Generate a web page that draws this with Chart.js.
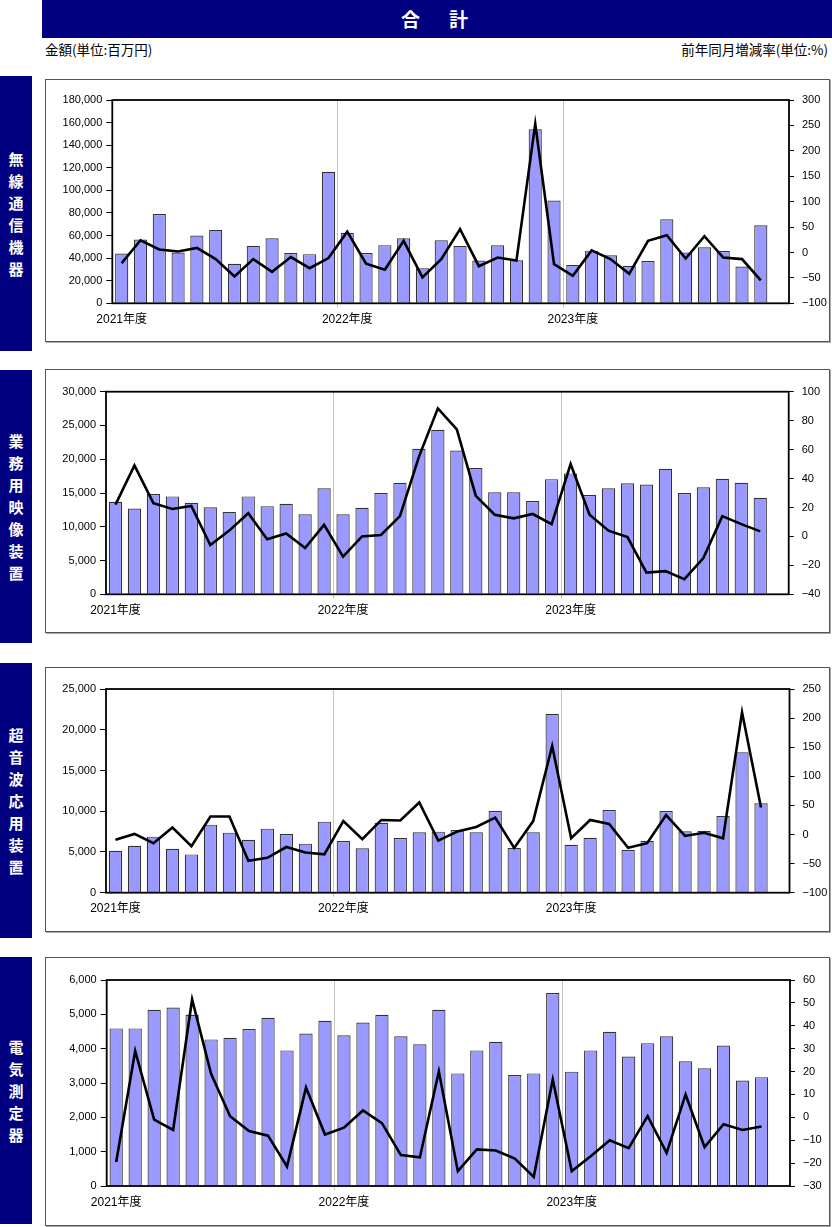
<!DOCTYPE html>
<html lang="ja">
<head>
<meta charset="utf-8">
<script src="https://cdn.jsdelivr.net/npm/chart.js@4.4.1/dist/chart.umd.min.js"></script>
<style>
  html, body { margin: 0; padding: 0; background: #fff; }
  body { width: 832px; height: 1227px; position: relative; overflow: hidden;
         font-family: 'Liberation Sans', 'Noto Sans CJK JP', sans-serif; }
  #hdr { position: absolute; left: 42px; top: 0; width: 790px; height: 38px; background: #000080;
         color: #fff; font-family: 'Noto Sans CJK JP', sans-serif; font-weight: bold; font-size: 19px;
         line-height: 38px; text-align: center; letter-spacing: 5px; }
  .unit { position: absolute; top: 41px; font-family: 'Noto Sans CJK JP', sans-serif; font-size: 13.5px; line-height: 16px; color: #000; }
  .side { position: absolute; left: 0; width: 32px; background: #000080; color: #fff;
          font-family: 'Noto Sans CJK JP', sans-serif; font-weight: bold; font-size: 15px;
          display: flex; align-items: center; justify-content: center; }
  .side span { display: block; width: 16px; line-height: 22px; text-align: center; word-break: break-all; }
  .box { position: absolute; left: 45px; width: 783px; border: 1px solid #555; box-shadow: 1px 1px 0 #aaa; background: #fff; }
  .box canvas { display: block; }
</style>
</head>
<body>
<div id="hdr">合　計</div>
<div class="unit" style="left:45px;">金額(単位:百万円)</div>
<div class="unit" style="right:4px;">前年同月増減率(単位:%)</div>

<div class="side" style="top:76px;height:275px;"><span>無線通信機器</span></div>
<div class="side" style="top:370px;height:273px;"><span>業務用映像装置</span></div>
<div class="side" style="top:663px;height:275px;"><span>超音波応用装置</span></div>
<div class="side" style="top:957px;height:267px;"><span>電気測定器</span></div>

<div class="box" style="top:79px;height:261px;"><canvas id="c1" width="783" height="261"></canvas></div>
<div class="box" style="top:369px;height:262px;"><canvas id="c2" width="783" height="262"></canvas></div>
<div class="box" style="top:667px;height:263px;"><canvas id="c3" width="783" height="263"></canvas></div>
<div class="box" style="top:957px;height:267px;"><canvas id="c4" width="783" height="267"></canvas></div>

<script>
// ---- categories (fiscal months Apr 2021 .. Mar 2024) ----
const months = [
  '2021-04','2021-05','2021-06','2021-07','2021-08','2021-09','2021-10','2021-11','2021-12','2022-01','2022-02','2022-03',
  '2022-04','2022-05','2022-06','2022-07','2022-08','2022-09','2022-10','2022-11','2022-12','2023-01','2023-02','2023-03',
  '2023-04','2023-05','2023-06','2023-07','2023-08','2023-09','2023-10','2023-11','2023-12','2024-01','2024-02','2024-03'
];
const fiscalYearLabels = ['2021年度', '2022年度', '2023年度'];

// ---- 無線通信機器 ----
const wirelessAmount = [44000, 56500, 79000, 45000, 60000, 65000, 35000, 51000, 57500, 44500, 43500, 116500,
  62500, 44500, 51500, 57500, 31000, 55800, 50800, 37800, 51300, 38100, 154000, 91000,
  34000, 46600, 42500, 33300, 37500, 74400, 44900, 49600, 46300, 32500, 69000];
const wirelessRate = [-21, 24, 6, 2, 9, -13, -47, -13, -38, -9, -31, -11,
  41, -22, -34, 23, -49, -13, 46, -27, -10, -16, 253, -23,
  -46, 4, -13, -42, 23, 34, -12, 32, -10, -13, -55];
const wirelessLeftTicks = [0, 180000, 20000];
const wirelessRightTicks = [-100, 300, 50];

// ---- 業務用映像装置 ----
const videoAmount = [13700, 12700, 14850, 14500, 13550, 12900, 12200, 14500, 13050, 13400, 11850, 15700,
  11850, 12800, 15000, 16500, 21550, 24350, 21300, 18700, 15100, 15100, 13800, 17050,
  17900, 14700, 15700, 16450, 16250, 18600, 15000, 15850, 17100, 16500, 14300];
const videoRate = [22, 49, 23, 19, 21, -6, 4, 16, -2, 2, -8, 8,
  -14, 0, 1, 14, 55, 88.5, 74, 28, 15, 12.5, 15.5, 8.5,
  50, 15, 4, -0.5, -25, -24, -29.5, -15, 14, 8.5, 3.5];
const videoLeftTicks = [0, 30000, 5000];
const videoRightTicks = [-40, 100, 20];

// ---- 超音波応用装置 ----
const ultrasonicAmount = [5150, 5770, 6880, 5400, 4700, 8350, 7370, 6500, 7860, 7200, 6020, 8720,
  6340, 5440, 8590, 6710, 7410, 7490, 7690, 7410, 10030, 5480, 7410, 21970,
  5890, 6750, 10150, 5240, 6380, 10030, 7530, 7610, 9410, 17230, 10970];
const ultrasonicRate = [-9, 1, -15, 12, -20, 31, 31, -45, -40, -21.5, -31, -34,
  23, -8, 25, 24, 55, -10.5, 5, 13, 29, -23, 23, 152,
  -6.5, 25, 18, -23, -15, 33.5, -2.5, 3, -6.5, 210, 46.5];
const ultrasonicLeftTicks = [0, 25000, 5000];
const ultrasonicRightTicks = [-100, 250, 50];

// ---- 電気測定器 ----
const measureAmount = [4590, 4590, 5130, 5200, 4990, 4270, 4320, 4570, 4900, 3950, 4440, 4810,
  4390, 4760, 4990, 4360, 4130, 5130, 3280, 3950, 4200, 3230, 3280, 5620,
  3330, 3950, 4490, 3770, 4160, 4360, 3630, 3430, 4090, 3070, 3170];
const measureRate = [-19.5, 29, -1, -5.5, 51.5, 19, 0.5, -6, -8, -21.5, 13, -7.5,
  -4.5, 3, -2.5, -16.5, -17.5, 20, -23.5, -14, -14.5, -18, -26, 16.5,
  -23.5, -17, -10, -13.5, 0.5, -15.5, 10, -13, -3, -5.5, -4];
const measureLeftTicks = [0, 6000, 1000];
const measureRightTicks = [-30, 60, 10];

const FONT_FAMILY = "'Liberation Sans', 'Noto Sans CJK JP', sans-serif";

const framePlugin = {
  id: 'frame',
  afterDraw(chart) {
    const a = chart.chartArea, ctx = chart.ctx;
    ctx.save();
    ctx.strokeStyle = '#000';
    ctx.lineWidth = 1.8;
    ctx.strokeRect(a.left, a.top, a.right - a.left, a.bottom - a.top);
    ctx.restore();
  }
};

function makeChart(id, amount, rate, leftTicks, rightTicks, geo) {
  const fmtLeft = v => Number(v).toLocaleString('en-US');
  const fmtRight = v => (v < 0 ? '\u2212' + Math.abs(v) : String(v));
  return new Chart(document.getElementById(id), {
    data: {
      labels: months,
      datasets: [
        { type: 'line', data: rate, yAxisID: 'y1', order: 0,
          borderColor: '#000', borderWidth: 2.6, pointRadius: 0, tension: 0, fill: false },
        { type: 'bar', data: amount, yAxisID: 'y', order: 1,
          backgroundColor: '#9999ff', borderColor: '#333', borderWidth: 1.2,
          barPercentage: 0.7, categoryPercentage: 1.0 }
      ]
    },
    options: {
      responsive: false, animation: false, devicePixelRatio: 1,
      layout: { padding: { top: geo.top, left: 0, right: 0, bottom: 0 } },
      plugins: { legend: { display: false }, tooltip: { enabled: false } },
      scales: {
        x: {
          offset: true,
          grid: {
            offset: true, drawOnChartArea: true, drawTicks: true, tickLength: 4,
            color: c => (c.index === 12 || c.index === 24) ? '#c4c4c4' : 'rgba(0,0,0,0)',
            lineWidth: 1
          },
          border: { display: false },
          ticks: {
            autoSkip: false, maxRotation: 0, minRotation: 0, padding: 5, color: '#000',
            font: { family: FONT_FAMILY, size: 12 },
            callback: (v, i) => (i % 12 === 0 ? fiscalYearLabels[i / 12] : '')
          },
          afterFit: s => { s.height = geo.bottom; }
        },
        y: {
          position: 'left', min: leftTicks[0], max: leftTicks[1],
          grid: { drawOnChartArea: false, drawTicks: true, tickLength: 6, tickColor: '#000', color: '#000' },
          border: { display: false },
          ticks: { stepSize: leftTicks[2], padding: 4, color: '#000',
                   font: { family: FONT_FAMILY, size: 11 }, callback: fmtLeft },
          afterFit: s => { s.width = geo.left; }
        },
        y1: {
          position: 'right', min: rightTicks[0], max: rightTicks[1],
          grid: { drawOnChartArea: false, drawTicks: true, tickLength: 5, tickColor: '#000', color: '#000' },
          border: { display: false },
          ticks: { stepSize: rightTicks[2], padding: 8, color: '#000',
                   font: { family: FONT_FAMILY, size: 11 }, callback: fmtRight },
          afterFit: s => { s.width = geo.right; }
        }
      }
    },
    plugins: [framePlugin]
  });
}

makeChart('c1', wirelessAmount, wirelessRate, wirelessLeftTicks, wirelessRightTicks,
  { top: 20, left: 66.3, right: 40, bottom: 37.7 });
makeChart('c2', videoAmount, videoRate, videoLeftTicks, videoRightTicks,
  { top: 21.7, left: 60, right: 40.3, bottom: 37.7 });
makeChart('c3', ultrasonicAmount, ultrasonicRate, ultrasonicLeftTicks, ultrasonicRightTicks,
  { top: 21, left: 60, right: 39.5, bottom: 38.3 });
makeChart('c4', measureAmount, measureRate, measureLeftTicks, measureRightTicks,
  { top: 22, left: 60.7, right: 39, bottom: 39 });
</script>
</body>
</html>
